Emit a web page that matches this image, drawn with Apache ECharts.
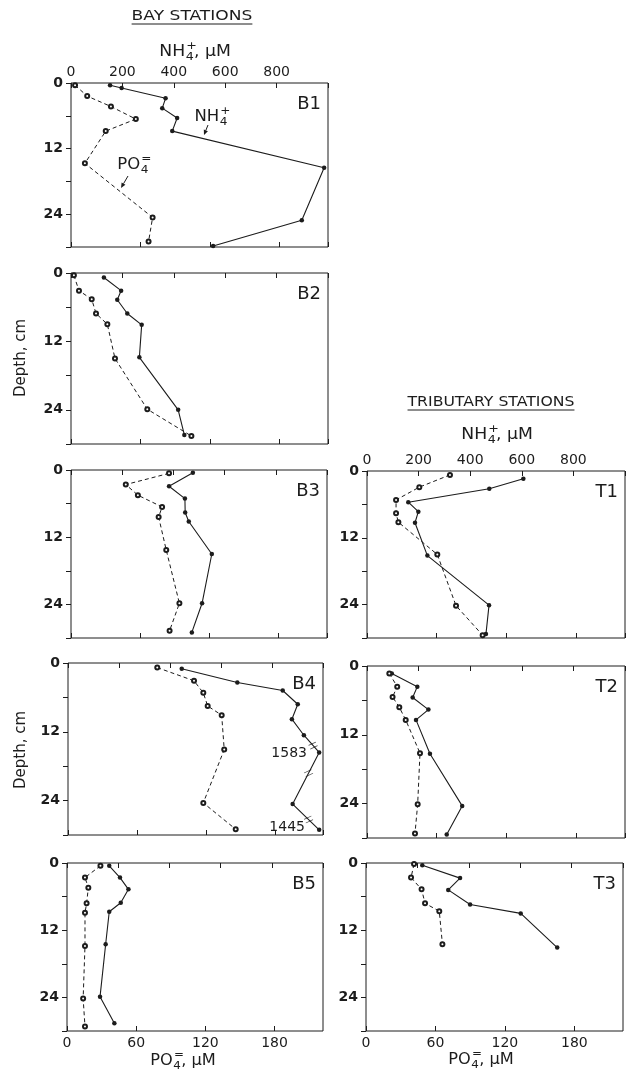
<!DOCTYPE html>
<html>
<head>
<meta charset="utf-8">
<script src="https://cdn.jsdelivr.net/npm/echarts@6.0.0/dist/echarts.min.js"></script>
<style>
html, body { margin: 0; padding: 0; background: #fff; }
#chart { width: 633px; height: 1082px; }
</style>
</head>
<body>
<div id="chart"></div>
<script>
// pore water profiles, NH4+ (filled, top axis) and PO4= (open, bottom axis) vs depth
var nh4Ticks = [0, 200, 400, 600, 800];
var po4Ticks = [0, 60, 120, 180];
var depthTicks = [0, 12, 24];

// bay stations
var b1NhDepth = [0.4, 0.9, 2.8, 4.6, 6.4, 8.8, 15.5, 25.1, 29.8];
var b1Nh      = [152, 197, 368, 355, 413, 394, 995, 898, 553];
var b1PoDepth = [0.4, 2.4, 4.3, 6.6, 8.8, 14.7, 24.6, 29.0];
var b1Po      = [3.5, 14, 34.5, 56, 30, 12, 70.5, 67];

var b2NhDepth = [0.8, 3.1, 4.7, 7.1, 9.1, 14.8, 24.0, 28.4];
var b2Nh      = [128, 195, 180, 219, 275, 266, 417, 441];
var b2PoDepth = [0.4, 3.1, 4.6, 7.1, 9.0, 15.0, 23.9, 28.6];
var b2Po      = [2.5, 6.9, 17.9, 21.6, 31.4, 38, 65.9, 104];

var b3NhDepth = [0.5, 2.9, 5.1, 7.6, 9.2, 15.0, 23.8, 29.0];
var b3Nh      = [476, 383, 445, 446, 460, 550, 512, 472];
var b3PoDepth = [0.6, 2.6, 4.5, 6.6, 8.4, 14.3, 23.8, 28.7];
var b3Po      = [85, 47.5, 58, 79, 76, 82.6, 94, 85.5];

var b4NhDepth = [1.0, 3.4, 4.8, 7.2, 9.8, 12.6, 15.6, 24.6, 29.1];
var b4Nh      = [446, 664, 842, 901, 878, 925, 1583, 881, 1445];
var b4PoDepth = [0.8, 3.1, 5.2, 7.5, 9.1, 15.1, 24.4, 29.0];
var b4Po      = [77.7, 109.7, 117.8, 121.6, 133.8, 136, 117.8, 146];

var b5NhDepth = [0.5, 2.6, 4.7, 7.1, 8.7, 14.5, 23.9, 28.6];
var b5Nh      = [165, 207, 240, 210, 165, 151, 129, 185];
var b5PoDepth = [0.5, 2.6, 4.4, 7.2, 8.9, 14.8, 24.2, 29.2];
var b5Po      = [29, 15.6, 18.5, 17, 15.6, 15.6, 14, 15.6];

// tributary stations
var t1NhDepth = [1.4, 3.2, 5.6, 7.3, 9.3, 15.2, 24.1, 29.3];
var t1Nh      = [606, 474, 160, 199, 186, 234, 473, 461];
var t1PoDepth = [0.7, 2.9, 5.2, 7.6, 9.2, 15.0, 24.2, 29.5];
var t1Po      = [71.4, 45, 25, 25, 27, 60.5, 76.6, 99.5];

var t2NhDepth = [1.3, 3.6, 5.5, 7.6, 9.4, 15.3, 24.4, 29.4];
var t2Nh      = [96, 195, 177, 238, 190, 244, 369, 309];
var t2PoDepth = [1.3, 3.6, 5.4, 7.2, 9.4, 15.2, 24.1, 29.2];
var t2Po      = [19.2, 26, 22, 27.8, 33.3, 45.6, 43.6, 41.3];

var t3NhDepth = [0.4, 2.7, 4.8, 7.4, 9.0, 15.1];
var t3Nh      = [219, 366, 320, 405, 602, 744];
var t3PoDepth = [0.2, 2.6, 4.7, 7.2, 8.6, 14.5];
var t3Po      = [41.5, 38.9, 48, 51, 63.3, 66];

var NH_MAX = 1000, PO_MAX = 222, DEPTH_MAX = 30;
var NH_CLIP = 985; // off-scale values sit on the right edge
var FONT = 'DejaVu Sans';
var INK = '#1c1c1c';

var panels = [
	{name: 'B1', left: 71,  top: 83,  width: 257, height: 164, nhD: b1NhDepth, nh: b1Nh, poD: b1PoDepth, po: b1Po, topLabels: true},
	{name: 'B2', left: 71,  top: 273, width: 257, height: 171, nhD: b2NhDepth, nh: b2Nh, poD: b2PoDepth, po: b2Po},
	{name: 'B3', left: 71,  top: 470, width: 256, height: 168, nhD: b3NhDepth, nh: b3Nh, poD: b3PoDepth, po: b3Po},
	{name: 'B4', left: 68,  top: 663, width: 255, height: 172, nhD: b4NhDepth, nh: b4Nh, poD: b4PoDepth, po: b4Po},
	{name: 'B5', left: 67,  top: 863, width: 256, height: 168, nhD: b5NhDepth, nh: b5Nh, poD: b5PoDepth, po: b5Po, bottomLabels: true},
	{name: 'T1', left: 367, top: 471, width: 258, height: 167, nhD: t1NhDepth, nh: t1Nh, poD: t1PoDepth, po: t1Po, topLabels: true},
	{name: 'T2', left: 367, top: 666, width: 258, height: 172, nhD: t2NhDepth, nh: t2Nh, poD: t2PoDepth, po: t2Po},
	{name: 'T3', left: 366, top: 863, width: 257, height: 168, nhD: t3NhDepth, nh: t3Nh, poD: t3PoDepth, po: t3Po, bottomLabels: true}
];

var measureCtx = document.createElement('canvas').getContext('2d');
function textWidth(s, font) {
	measureCtx.font = font;
	return measureCtx.measureText(s).width;
}

function pairs(xs, ys, cap) {
	var out = [];
	for (var i = 0; i < xs.length; i++) {
		out.push([cap ? Math.min(xs[i], cap) : xs[i], ys[i]]);
	}
	return out;
}

var grids = [], xAxes = [], yAxes = [], series = [];

panels.forEach(function(p, i) {
	grids.push({
		left: p.left, top: p.top, width: p.width, height: p.height,
		show: true, borderColor: INK, borderWidth: 1, backgroundColor: 'transparent'
	});
	xAxes.push({
		type: 'value', gridIndex: i, position: 'top', min: 0, max: NH_MAX, interval: 200,
		axisLine: {show: false},
		axisTick: {show: true, inside: true, length: 5, lineStyle: {color: INK}},
		splitLine: {show: false},
		axisLabel: {
			show: !!p.topLabels, margin: 4, color: INK, fontFamily: FONT, fontSize: 14,
			formatter: function(v) { return nh4Ticks.indexOf(v) >= 0 ? String(v) : ''; }
		}
	});
	xAxes.push({
		type: 'value', gridIndex: i, position: 'bottom', min: 0, max: PO_MAX, interval: 60,
		axisLine: {show: false},
		axisTick: {show: true, inside: true, length: 5, lineStyle: {color: INK}},
		splitLine: {show: false},
		axisLabel: {
			show: !!p.bottomLabels, margin: 5, color: INK, fontFamily: FONT, fontSize: 14,
			showMaxLabel: false,
			formatter: function(v) { return po4Ticks.indexOf(v) >= 0 ? String(v) : ''; }
		}
	});
	yAxes.push({
		type: 'value', gridIndex: i, inverse: true, min: 0, max: DEPTH_MAX, interval: 6,
		axisLine: {show: false},
		axisTick: {show: true, inside: false, length: 5, lineStyle: {color: INK}},
		splitLine: {show: false},
		axisLabel: {
			margin: 8, color: INK, fontFamily: FONT, fontSize: 14, fontWeight: 'bold',
			formatter: function(v) { return depthTicks.indexOf(v) >= 0 ? String(v) : ''; }
		}
	});

	series.push({
		type: 'line', name: p.name + ' NH4', xAxisIndex: 2 * i, yAxisIndex: i,
		data: pairs(p.nh, p.nhD, NH_CLIP),
		symbol: 'circle', symbolSize: 4.5, showSymbol: true, clip: false, silent: true,
		itemStyle: {color: INK},
		lineStyle: {color: INK, width: 1.1}
	});
	series.push({
		type: 'line', name: p.name + ' PO4', xAxisIndex: 2 * i + 1, yAxisIndex: i,
		data: pairs(p.po, p.poD),
		symbol: 'emptyCircle', symbolSize: 4, showSymbol: true, clip: false, silent: true,
		itemStyle: {color: INK, borderWidth: 0.9},
		lineStyle: {color: INK, width: 1, type: [4, 3]}
	});

	// break marks next to off-scale NH4 values
	var breaks = [];
	for (var k = 0; k < p.nh.length; k++) {
		if (p.nh[k] <= NH_MAX) continue;
		[k - 1, k + 1].forEach(function(j) {
			if (j < 0 || j >= p.nh.length) return;
			var x0 = Math.min(p.nh[k], NH_CLIP), x1 = Math.min(p.nh[j], NH_CLIP);
			breaks.push([x0 + (x1 - x0) * 0.4, p.nhD[k] + (p.nhD[j] - p.nhD[k]) * 0.4]);
		});
	}
	if (breaks.length) {
		series.push({
			type: 'scatter', xAxisIndex: 2 * i, yAxisIndex: i, data: breaks, silent: true,
			symbol: 'path://M0,0L10,0M0,4L10,4', symbolSize: [8, 4], symbolRotate: 25,
			itemStyle: {color: 'transparent', borderColor: INK, borderWidth: 1}
		});
	}
});

function txt(x, y, s, size, align, extra) {
	var el = {
		type: 'text', x: x, y: y, silent: true,
		style: {
			text: s, font: size + 'px "' + FONT + '"', fill: INK,
			textAlign: align || 'left', textVerticalAlign: 'middle',
			align: align || 'left', verticalAlign: 'middle'
		}
	};
	if (extra) for (var key in extra) el[key] = extra[key];
	return el;
}

// chemical label with stacked sub/superscript, centred on cx
function chem(cx, cy, base, sup, tail, size, sx) {
	var f = size + 'px "' + FONT + '"';
	var small = Math.round(size * 0.72);
	var wb = textWidth(base, f);
	var wt = tail ? textWidth(tail, f) : 0;
	var subX = wb + 0.5;
	var tailX = wb + small * 0.7;
	var total = tailX + wt;
	var children = [
		txt(0, 0, base, size),
		txt(subX, size * 0.32, '4', small),
		txt(subX + 0.5, -size * 0.42, sup, small)
	];
	if (tail) children.push(txt(tailX, 0, tail, size));
	return {type: 'group', x: cx - total * sx / 2, y: cy, scaleX: sx, children: children};
}

function title(cx, cy, s, sx) {
	var w = textWidth(s, '14px "' + FONT + '"') * sx;
	return [
		txt(cx, cy, s, 14, 'center', {scaleX: sx}),
		{type: 'line', silent: true, shape: {x1: cx - w / 2, y1: cy + 8, x2: cx + w / 2, y2: cy + 8},
			style: {stroke: INK, lineWidth: 1}}
	];
}

function arrow(x1, y1, x2, y2) {
	var a = Math.atan2(y2 - y1, x2 - x1), L = 5, W = 2.2;
	var bx = x2 - L * Math.cos(a), by = y2 - L * Math.sin(a);
	return [
		{type: 'line', silent: true, shape: {x1: x1, y1: y1, x2: bx, y2: by}, style: {stroke: INK, lineWidth: 1}},
		{type: 'polygon', silent: true, shape: {points: [
			[x2, y2],
			[bx + W * Math.sin(a), by - W * Math.cos(a)],
			[bx - W * Math.sin(a), by + W * Math.cos(a)]
		]}, style: {fill: INK}}
	];
}

var graphics = [];
graphics = graphics.concat(title(192, 16, 'BAY STATIONS', 1.22));
graphics = graphics.concat(title(491, 402, 'TRIBUTARY STATIONS', 1.12));
graphics.push(chem(195, 52, 'NH', '+', ', \u00b5M', 15, 1.15));
graphics.push(chem(497, 435, 'NH', '+', ', \u00b5M', 15, 1.15));
graphics.push(chem(183, 1061, 'PO', '=', ', \u00b5M', 15, 1.08));
graphics.push(chem(481, 1060, 'PO', '=', ', \u00b5M', 15, 1.08));
graphics.push(txt(21, 358, 'Depth, cm', 15, 'center', {rotation: Math.PI / 2}));
graphics.push(txt(21, 750, 'Depth, cm', 15, 'center', {rotation: Math.PI / 2}));

panels.forEach(function(p) {
	graphics.push(txt(p.left + p.width - 7, p.top + 21, p.name, 18, 'right'));
});

// in-plot annotations
graphics.push(chem(211, 117, 'NH', '+', '', 15, 1.1));
graphics = graphics.concat(arrow(208, 125, 204, 135));
graphics.push(chem(133, 165, 'PO', '=', '', 15, 1.1));
graphics = graphics.concat(arrow(128, 176, 121, 188));
graphics.push(txt(307, 753, String(b4Nh[6]), 14, 'right'));
graphics.push(txt(305, 827, String(b4Nh[8]), 14, 'right'));

var chart = echarts.init(document.getElementById('chart'), null, {renderer: 'canvas'});
chart.setOption({
	animation: false,
	backgroundColor: '#fff',
	grid: grids,
	xAxis: xAxes,
	yAxis: yAxes,
	series: series,
	graphic: {elements: graphics}
});
</script>
</body>
</html>
